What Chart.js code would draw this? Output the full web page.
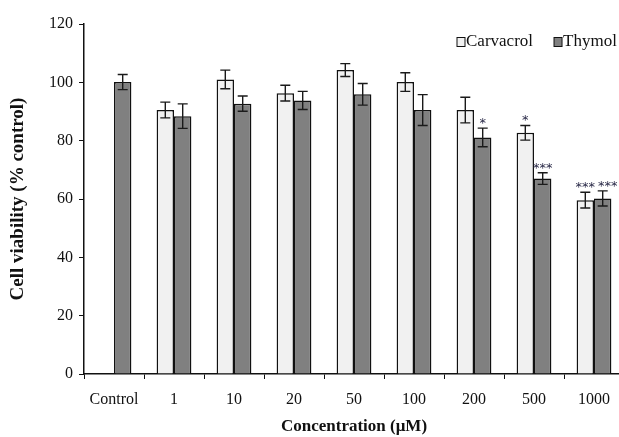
<!DOCTYPE html>
<html>
<head>
<meta charset="utf-8">
<script src="https://cdn.jsdelivr.net/npm/chart.js@4.4.0/dist/chart.umd.min.js"></script>
<style>
  html, body { margin: 0; padding: 0; background: #fff; overflow: hidden; }
  /* the original plot runs a few pixels past the right edge of the picture */
  #wrap { width: 624px; height: 437px; }
</style>
</head>
<body>
<div id="wrap"><canvas id="viabilityChart"></canvas></div>
<script>
// values
var categories = ['Control', '1', '10', '20', '50', '100', '200', '500', '1000'];
var carvacrol = [null, 90.5, 101, 96.3, 104.2, 100.1, 90.5, 82.7, 59.6];
var carvacrolErr = [null, 2.7, 3.2, 2.7, 2.2, 3.2, 4.4, 2.5, 2.7];
var thymol = [100.1, 88.4, 92.7, 93.8, 95.9, 90.5, 81.1, 67, 60.2];
var thymolErr = [2.6, 4.2, 2.6, 3.1, 3.7, 5.3, 3.2, 2, 2.6];
var carvacrolStars = ['', '', '', '', '', '', '', '*', '***'];
var thymolStars = ['', '', '', '', '', '', '*', '***', '***'];
var yTicks = [0, 20, 40, 60, 80, 100, 120];

var serif = '"Liberation Serif", "Times New Roman", serif';

var errorBars = {
    id: 'errorBars',
    afterDatasetsDraw: function(chart) {
        var ctx = chart.ctx;
        var y = chart.scales.y;
        var errs = [carvacrolErr, thymolErr];
        var stars = [carvacrolStars, thymolStars];
        ctx.save();
        chart.data.datasets.forEach(function(ds, di) {
            var meta = chart.getDatasetMeta(di);
            meta.data.forEach(function(bar, i) {
                var v = ds.data[i];
                if (v === null) return;
                var e = errs[di][i];
                var top = y.getPixelForValue(v + e);
                var bot = y.getPixelForValue(v - e);
                ctx.strokeStyle = '#1a1a1a';
                ctx.lineWidth = 1.4;
                ctx.beginPath();
                ctx.moveTo(bar.x, top); ctx.lineTo(bar.x, bot);
                ctx.moveTo(bar.x - 5, top); ctx.lineTo(bar.x + 5, top);
                ctx.moveTo(bar.x - 5, bot); ctx.lineTo(bar.x + 5, bot);
                ctx.stroke();
                var s = stars[di][i];
                if (s) {
                    // nudge the second label right when both bars are marked
                    var shift = (di === 1 && carvacrolStars[i].length > 1) ? 5 : 0;
                    ctx.fillStyle = '#2a2a48';
                    ctx.font = '13px "DejaVu Sans", sans-serif';
                    ctx.textAlign = 'center';
                    ctx.textBaseline = 'bottom';
                    ctx.fillText(s, bar.x + shift, top + 2);
                }
            });
        });
        ctx.restore();
    }
};

var boxLegend = {
    id: 'boxLegend',
    afterDraw: function(chart) {
        var ctx = chart.ctx;
        var x = 457, yMid = 42;
        ctx.save();
        ctx.font = '17px ' + serif;
        ctx.textBaseline = 'middle';
        ctx.textAlign = 'left';
        chart.data.datasets.forEach(function(ds) {
            ctx.fillStyle = ds.backgroundColor;
            ctx.fillRect(x, yMid - 4.5, 8, 9);
            ctx.strokeStyle = '#111';
            ctx.lineWidth = 1;
            ctx.strokeRect(x, yMid - 4.5, 8, 9);
            ctx.fillStyle = '#111';
            ctx.fillText(ds.label, x + 9, yMid);
            x += 9 + ctx.measureText(ds.label).width + 21;
        });
        ctx.restore();
    }
};

var ctx = document.getElementById('viabilityChart').getContext('2d');
var chart = new Chart(ctx, {
    type: 'bar',
    data: {
        labels: categories,
        datasets: [{
            label: 'Carvacrol',
            data: carvacrol,
            backgroundColor: '#f1f1f1',
            borderColor: '#111',
            borderWidth: 1.5,
            categoryPercentage: 0.58,
            barPercentage: 1.0
        }, {
            label: 'Thymol',
            data: thymol,
            backgroundColor: '#808080',
            borderColor: '#111',
            borderWidth: 1.5,
            categoryPercentage: 0.58,
            barPercentage: 1.0
        }]
    },
    options: {
        responsive: true,
        maintainAspectRatio: false,
        animation: false,
        layout: { padding: { top: 24, right: 0, left: 0, bottom: 0 } },
        scales: {
            x: {
                grid: { display: true, drawOnChartArea: false, drawTicks: true, tickLength: 5, color: '#111', offset: true },
                border: { display: true, color: '#111', width: 1.5 },
                ticks: { color: '#111', font: { family: serif, size: 16 }, padding: 11, maxRotation: 0 },
                title: { display: true, text: 'Concentration (μM)', color: '#111', font: { family: serif, size: 17, weight: 'bold' }, padding: { top: 0, bottom: 0 } },
                afterFit: function(s) { s.height = 63; }
            },
            y: {
                min: 0,
                max: 120,
                afterBuildTicks: function(s) { s.ticks = yTicks.map(function(v) { return { value: v }; }); },
                grid: { display: true, drawOnChartArea: false, drawTicks: true, tickLength: 5, color: '#111' },
                border: { display: true, color: '#111', width: 1.5 },
                ticks: { color: '#111', font: { family: serif, size: 16 }, padding: 6 },
                title: { display: true, text: 'Cell viability (% control)', color: '#111', font: { family: serif, size: 19, weight: 'bold' }, padding: { top: 7, bottom: 4 } },
                afterFit: function(s) { s.width = 84; }
            }
        },
        plugins: {
            legend: { display: false },
            tooltip: { enabled: false }
        }
    },
    plugins: [errorBars, boxLegend]
});
</script>
</body>
</html>
